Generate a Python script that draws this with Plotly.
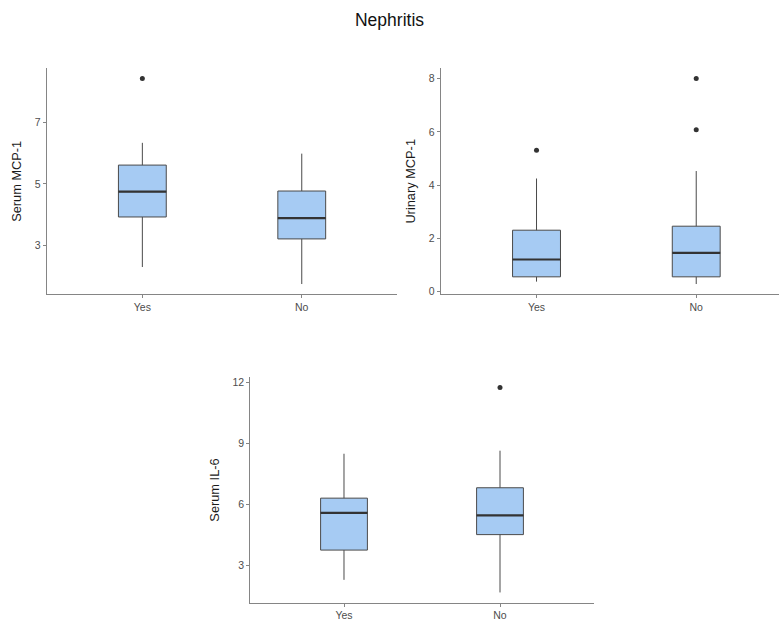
import plotly.graph_objects as go

# ---- data ----
groups = ["Yes", "No"]
group_pos = [1, 2]

serum_mcp1_q1 = [3.93, 3.22]
serum_mcp1_median = [4.75, 3.89]
serum_mcp1_q3 = [5.61, 4.77]
serum_mcp1_low = [2.31, 1.76]
serum_mcp1_high = [6.33, 5.98]
serum_mcp1_outliers = {"Yes": [8.41], "No": []}

urinary_mcp1_q1 = [0.56, 0.56]
urinary_mcp1_median = [1.21, 1.46]
urinary_mcp1_q3 = [2.31, 2.46]
urinary_mcp1_low = [0.38, 0.29]
urinary_mcp1_high = [4.25, 4.53]
urinary_mcp1_outliers = {"Yes": [5.31], "No": [6.08, 8.0]}

serum_il6_q1 = [3.76, 4.52]
serum_il6_median = [5.59, 5.46]
serum_il6_q3 = [6.31, 6.82]
serum_il6_low = [2.30, 1.68]
serum_il6_high = [8.49, 8.64]
serum_il6_outliers = {"Yes": [], "No": [11.74]}

y_titles = ["Serum MCP-1", "Urinary MCP-1", "Serum IL-6"]
y_ticks = [[3, 5, 7], [0, 2, 4, 6, 8], [3, 6, 9, 12]]

W, H = 779, 621
FILL = "#a6cbf3"
EDGE = "#4a4a4a"
AXC = "#858585"
BOXW = 0.3
FONT = "Liberation Sans, Arial, sans-serif"

panels = [
    dict(q1=serum_mcp1_q1, med=serum_mcp1_median, q3=serum_mcp1_q3,
         lo=serum_mcp1_low, hi=serum_mcp1_high, out=serum_mcp1_outliers,
         xdom=[46.7 / W, 397.4 / W], ydom=[(H - 294.3) / H, (H - 68.3) / H],
         xr=[0.4, 2.6]),
    dict(q1=urinary_mcp1_q1, med=urinary_mcp1_median, q3=urinary_mcp1_q3,
         lo=urinary_mcp1_low, hi=urinary_mcp1_high, out=urinary_mcp1_outliers,
         xdom=[440.7 / W, 1.0], ydom=[(H - 294.3) / H, (H - 68.3) / H],
         xr=[0.4, 0.4 + (W - 440.7) / 159.7]),
    dict(q1=serum_il6_q1, med=serum_il6_median, q3=serum_il6_q3,
         lo=serum_il6_low, hi=serum_il6_high, out=serum_il6_outliers,
         xdom=[250.4 / W, 593.6 / W], ydom=[(H - 602.7) / H, (H - 377.3) / H],
         xr=[0.4, 2.6]),
]

fig = go.Figure()
layout = {}
for i, p in enumerate(panels):
    n = "" if i == 0 else str(i + 1)
    xa, ya = "x" + n, "y" + n
    fig.add_trace(go.Box(
        x=group_pos, q1=p["q1"], median=p["med"], q3=p["q3"],
        lowerfence=p["lo"], upperfence=p["hi"], width=BOXW,
        fillcolor=FILL, line=dict(color=EDGE, width=1), whiskerwidth=0,
        boxpoints=False, xaxis=xa, yaxis=ya, showlegend=False, hoverinfo="skip",
    ))
    # thicker median line like ggplot
    for gx, m in zip(group_pos, p["med"]):
        fig.add_trace(go.Scatter(
            x=[gx - BOXW / 2, gx + BOXW / 2], y=[m, m], mode="lines",
            line=dict(color="#333333", width=2.2), xaxis=xa, yaxis=ya,
            showlegend=False, hoverinfo="skip"))
    ox, oy = [], []
    for gx, g in zip(group_pos, groups):
        for v in p["out"][g]:
            ox.append(gx)
            oy.append(v)
    if ox:
        fig.add_trace(go.Scatter(
            x=ox, y=oy, mode="markers", marker=dict(color="#333333", size=5),
            xaxis=xa, yaxis=ya, showlegend=False, hoverinfo="skip"))
    allv = p["lo"] + p["hi"] + [v for g in groups for v in p["out"][g]]
    vmin, vmax = min(allv), max(allv)
    pad = 0.05 * (vmax - vmin)
    common = dict(showline=True, linecolor=AXC, linewidth=1.2, ticks="outside",
                  ticklen=3, tickcolor=AXC, showgrid=False, zeroline=False,
                  automargin=False,
                  tickfont=dict(size=10.5, color="#4d4d4d", family=FONT))
    layout["xaxis" + n] = dict(domain=p["xdom"], anchor=ya, range=p["xr"],
                               tickvals=group_pos, ticktext=groups, **common)
    layout["yaxis" + n] = dict(domain=p["ydom"], anchor=xa,
                               range=[vmin - pad, vmax + pad], tickvals=y_ticks[i],
                               title=dict(text=y_titles[i], standoff=10,
                                          font=dict(size=12.8, color="#1a1a1a", family=FONT)),
                               **common)

fig.update_layout(
    width=W, height=H, margin=dict(l=0, r=0, t=0, b=0),
    paper_bgcolor="white", plot_bgcolor="white",
    title=dict(text="Nephritis", x=0.5, xanchor="center", y=1 - 20 / H, yanchor="middle",
               font=dict(size=17.5, color="#111111", family=FONT)),
    **layout,
)
fig.write_html("out.html", config={"displayModeBar": False},
               post_script="document.body.style.margin='0px';document.body.style.overflow='hidden';")
